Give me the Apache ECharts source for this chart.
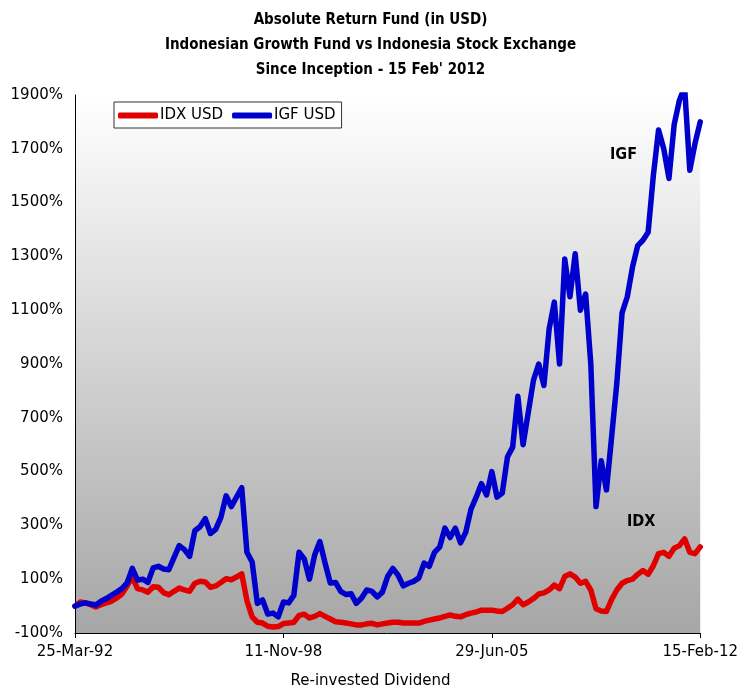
<!DOCTYPE html>
<html>
<head>
<meta charset="utf-8">
<script src="https://cdn.jsdelivr.net/npm/echarts@6/dist/echarts.min.js"></script>
<style>
	html, body { margin: 0; padding: 0; background: #fff; }
	#chartBox { width: 741px; height: 688px; }
</style>
</head>
<body>
<div id="chartBox"></div>
<script>
// tick labels
const xTickLabels = ['25-Mar-92', '11-Nov-98', '29-Jun-05', '15-Feb-12'];
const yTickLabels = ['-100%', '100%', '300%', '500%', '700%', '900%', '1100%', '1300%', '1500%', '1700%', '1900%'];
const seriesNames = ['IDX USD', 'IGF USD'];

// absolute return in %, sampled evenly from 25-Mar-92 to 15-Feb-12 (121 points)
const idxUsd = [
	0, 15, 12, 5, -3, 5, 12, 18, 30, 45,
	75, 108, 65, 60, 52, 72, 70, 50, 42, 55,
	67, 60, 55, 85, 92, 90, 70, 75, 88, 102,
	98, 108, 120, 20, -40, -60, -63, -75, -78, -76,
	-65, -63, -60, -35, -30, -44, -38, -28, -38, -48,
	-58, -60, -63, -66, -70, -70, -66, -64, -70, -66,
	-63, -60, -60, -63, -63, -63, -63, -57, -52, -48,
	-44, -38, -33, -38, -40, -32, -26, -22, -15, -15,
	-15, -18, -20, -8, 5, 26, 5, 15, 28, 45,
	49, 60, 78, 65, 110, 120, 108, 85, 92, 60,
	-10, -18, -20, 25, 60, 85, 95, 100, 118, 132,
	118, 150, 195, 200, 185, 215, 225, 250, 200, 195,
	220
];
const igfUsd = [
	0, 8, 12, 8, 4, 18, 28, 40, 52, 65,
	86, 140, 97, 100, 88, 142, 148, 138, 135, 180,
	225, 210, 185, 280, 295, 325, 270, 285, 330, 410,
	370, 405, 440, 200, 164, 10, 23, -30, -26, -40,
	15, 12, 40, 200, 175, 100, 190, 240, 160, 86,
	88, 55, 43, 46, 10, 30, 60, 55, 34, 52,
	110, 140, 115, 75, 85, 92, 105, 160, 148, 200,
	220, 290, 255, 290, 235, 275, 360, 405, 455, 413,
	500, 405, 420, 554, 591, 780, 600, 720, 840, 900,
	820, 1030, 1130, 900, 1290, 1150, 1310, 1100, 1160, 900,
	370, 540, 432, 630, 830, 1090, 1150, 1260, 1340, 1360,
	1390, 1600, 1770, 1700, 1590, 1790, 1880, 1930, 1620, 1720,
	1800
];

const step = (idxUsd.length - 1) / (xTickLabels.length - 1);
const categories = idxUsd.map((v, i) => (i % step === 0 ? xTickLabels[i / step] : ''));

let myChart = echarts.init(document.getElementById('chartBox'));
let option = {
	backgroundColor: '#ffffff',
	animation: false,
	title: {
		text: 'Absolute Return Fund (in USD)\nIndonesian Growth Fund vs Indonesia Stock Exchange\nSince Inception - 15 Feb\' 2012',
		left: 'center',
		top: 3,
		textStyle: {
			color: '#000',
			fontSize: 15,
			fontWeight: 'bold',
			fontFamily: 'DejaVu Sans Condensed',
			lineHeight: 25
		}
	},
	legend: {
		data: seriesNames,
		left: 114,
		top: 102,
		orient: 'horizontal',
		padding: [6, 6, 5, 4],
		itemGap: 9,
		itemWidth: 40,
		itemHeight: 6,
		icon: 'roundRect',
		backgroundColor: '#ffffff',
		borderColor: '#333',
		borderWidth: 1,
		borderRadius: 0,
		textStyle: {
			color: '#000',
			fontSize: 15,
			fontFamily: 'DejaVu Sans',
			padding: [0, 0, 0, -3]
		}
	},
	grid: {
		left: 75,
		right: 40,
		top: 95,
		bottom: 55,
		show: true,
		borderWidth: 0,
		backgroundColor: new echarts.graphic.LinearGradient(0, 0, 0, 1, [
			{ offset: 0, color: '#ffffff' },
			{ offset: 1, color: '#a6a6a6' }
		])
	},
	xAxis: {
		type: 'category',
		data: categories,
		boundaryGap: false,
		axisLine: { onZero: false, lineStyle: { color: '#000', width: 1 } },
		axisTick: { interval: step - 1, length: 5, lineStyle: { color: '#000' } },
		axisLabel: {
			interval: step - 1,
			margin: 12,
			color: '#000',
			fontSize: 15,
			fontFamily: 'DejaVu Sans'
		},
		splitLine: { show: false }
	},
	yAxis: [
		{
			type: 'category',
			data: yTickLabels,
			boundaryGap: false,
			axisLine: { onZero: false, lineStyle: { color: '#000', width: 1 } },
			axisTick: { length: 5, lineStyle: { color: '#000' } },
			axisLabel: {
				margin: 12,
				color: '#000',
				fontSize: 15,
				fontFamily: 'DejaVu Sans'
			},
			splitLine: { show: false }
		},
		{
			type: 'value',
			min: -100,
			max: 1900,
			show: false
		}
	],
	graphic: [
		{
			type: 'text',
			left: 'center',
			top: 674,
			style: { text: 'Re-invested Dividend', fill: '#000', font: '15px "DejaVu Sans"' },
			x: -6
		},
		{
			type: 'text',
			left: 610,
			top: 147,
			style: { text: 'IGF', fill: '#000', font: 'bold 16px "DejaVu Sans Condensed"' }
		},
		{
			type: 'text',
			left: 627,
			top: 514,
			style: { text: 'IDX', fill: '#000', font: 'bold 16px "DejaVu Sans Condensed"' }
		}
	],
	series: [
		{
			name: seriesNames[0],
			type: 'line',
			yAxisIndex: 1,
			data: idxUsd,
			showSymbol: false,
			color: '#e00000',
			lineStyle: { width: 5.5, color: '#e00000', cap: 'round', join: 'round' }
		},
		{
			name: seriesNames[1],
			type: 'line',
			yAxisIndex: 1,
			data: igfUsd,
			showSymbol: false,
			color: '#0000cc',
			lineStyle: { width: 5.5, color: '#0000cc', cap: 'round', join: 'round' }
		}
	]
};
myChart.setOption(option, true);
</script>
</body>
</html>
